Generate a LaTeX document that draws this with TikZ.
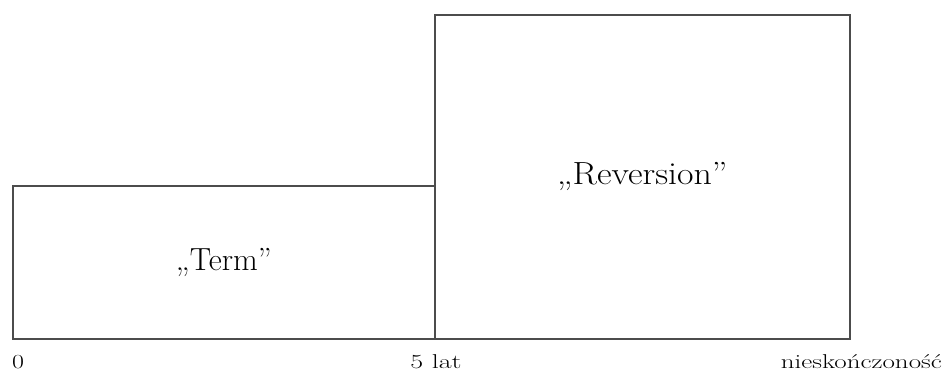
\documentclass[tikz,border=0pt]{standalone}
\usepackage{graphicx}
\tikzset{
  box/.style={draw=black!70, line width=1.6pt, fill=white, inner sep=0pt, anchor=north west},
  biglabel/.style={font=\fontsize{32}{36}\selectfont},
  axislabel/.style={font=\fontsize{20}{22}\selectfont, inner sep=0pt, anchor=base}
}
\begin{document}
\begin{tikzpicture}[x=1pt, y=-1pt]
\useasboundingbox (0,0) rectangle (944,372);
\node[box, minimum width=422pt, minimum height=153pt, biglabel] (term) at (12,185) {„Term”};
\node[box, minimum width=415pt, minimum height=324pt, biglabel] (rev) at (434,14) {\scalebox{1.12}[1]{„Reversion”}};
\node[axislabel] (zero) at (18,368) {\scalebox{1.3}[1]{0}};
\node[axislabel] (five) at (436,368) {\scalebox{1.4}[1]{5 lat}};
\node[axislabel, anchor=base east] (inf) at (942,368) {\scalebox{1.35}[1]{nieskończoność}};
\end{tikzpicture}
\end{document}
